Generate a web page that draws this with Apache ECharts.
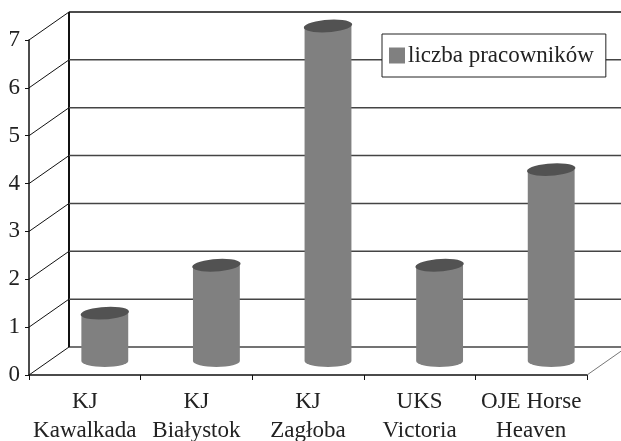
<!DOCTYPE html>
<html>
<head>
<meta charset="utf-8">
<script src="https://cdn.jsdelivr.net/npm/echarts@6/dist/echarts.min.js"></script>
<style>
  html, body { margin: 0; padding: 0; background: #fff; }
</style>
</head>
<body>
<div id="chart" style="width: 621px; height: 441px"></div>
<script>
const categories = ["KJ\nKawalkada", "KJ\nBiałystok", "KJ\nZagłoba", "UKS\nVictoria", "OJE Horse\nHeaven"];
const workers = [1, 2, 7, 2, 4];
const yTicks = [0, 1, 2, 3, 4, 5, 6, 7];
const seriesName = "liczba pracowników";

// przesunięcie "głębokości" wykresu 3D (w pikselach)
const DX = 40;
const DY = -28;
const FONT = "Liberation Serif";

const myChart = echarts.init(document.getElementById("chart"));

const option = {
  backgroundColor: "#fff",
  animation: false,
  textStyle: { fontFamily: FONT },
  legend: {
    data: [{ name: seriesName, icon: "rect" }],
    left: 382,
    top: 34,
    orient: "vertical",
    padding: [10, 12, 10, 7],
    itemWidth: 16,
    itemHeight: 16,
    itemGap: 0,
    backgroundColor: "#fff",
    borderColor: "#222",
    borderWidth: 1,
    borderRadius: 0,
    selectedMode: false,
    textStyle: { fontFamily: FONT, fontSize: 23, color: "#222", padding: [0, 0, 0, -2] }
  },
  grid: {
    left: 29,
    top: 40,
    width: 558,
    height: 335,
    outerBoundsMode: "none",
    containLabel: false
  },
  xAxis: {
    type: "category",
    data: categories,
    axisLine: { lineStyle: { color: "#111", width: 1.5 } },
    axisTick: { show: true, length: 5, lineStyle: { color: "#111" } },
    axisLabel: {
      color: "#222",
      fontFamily: FONT,
      fontSize: 23,
      lineHeight: 29,
      margin: 12,
      interval: 0
    },
    splitLine: { show: false }
  },
  yAxis: {
    type: "value",
    min: 0,
    max: 7,
    interval: 1,
    axisLine: { show: true, lineStyle: { color: "#111", width: 1.5 } },
    axisTick: { show: true, length: 4, lineStyle: { color: "#111" } },
    axisLabel: { color: "#222", fontFamily: FONT, fontSize: 23, margin: 9 },
    splitLine: { show: false }
  },
  series: [
    {
      // ściany: tylna i boczna
      type: "custom",
      name: "walls",
      silent: true,
      z: 1,
      data: yTicks.map(v => [0, v]),
      encode: { x: 0, y: 1 },
      renderItem(params, api) {
        const cs = params.coordSys;
        const y = api.coord([0, api.value(1)])[1];
        const x0 = cs.x;
        const children = [
          {
            type: "line",
            shape: { x1: x0, y1: y, x2: x0 + DX, y2: y + DY },
            style: { stroke: "#111", lineWidth: 1 }
          },
          {
            type: "line",
            shape: { x1: x0 + DX, y1: y + DY, x2: cs.x + cs.width + DX + 10, y2: y + DY },
            style: { stroke: api.value(1) === yTicks[yTicks.length - 1] ? "#111" : "#444", lineWidth: 1.5 }
          }
        ];
        if (api.value(1) === 0) {
          const yTop = api.coord([0, yTicks[yTicks.length - 1]])[1];
          children.push({
            type: "line",
            shape: { x1: x0 + DX, y1: y + DY, x2: x0 + DX, y2: yTop + DY },
            style: { stroke: "#111", lineWidth: 2 }
          });
          children.push({
            type: "line",
            shape: { x1: cs.x + cs.width, y1: y, x2: cs.x + cs.width + DX, y2: y + DY },
            style: { stroke: "#777", lineWidth: 1 }
          });
        }
        return { type: "group", children };
      }
    },
    {
      // walce
      type: "custom",
      name: seriesName,
      z: 3,
      itemStyle: { color: "#808080" },
      data: workers.map((v, i) => [i, v]),
      encode: { x: 0, y: 1 },
      renderItem(params, api) {
        const top = api.coord([api.value(0), api.value(1)]);
        const base = api.coord([api.value(0), 0]);
        const w = api.size([1, 0])[0] * 0.42;
        const cx = top[0] + DX / 2;
        const ty = top[1] + DY / 2;
        const by = base[1] + DY / 2;
        const l = cx - w / 2;
        const r = cx + w / 2;
        const rx = w / 2;
        const ry = 6;
        return {
          type: "group",
          children: [
            {
              type: "path",
              shape: {
                pathData: `M ${l} ${ty} L ${l} ${by} A ${rx} ${ry} 0 0 0 ${r} ${by} L ${r} ${ty} Z`
              },
              style: { fill: "#808080" }
            },
            {
              type: "path",
              shape: {
                pathData: `M ${l} ${ty} A ${rx} ${ry} -4 1 1 ${r} ${ty} A ${rx} ${ry} -4 1 1 ${l} ${ty} Z`
              },
              style: { fill: "#525252" }
            }
          ]
        };
      }
    }
  ]
};

myChart.setOption(option);
</script>
</body>
</html>
